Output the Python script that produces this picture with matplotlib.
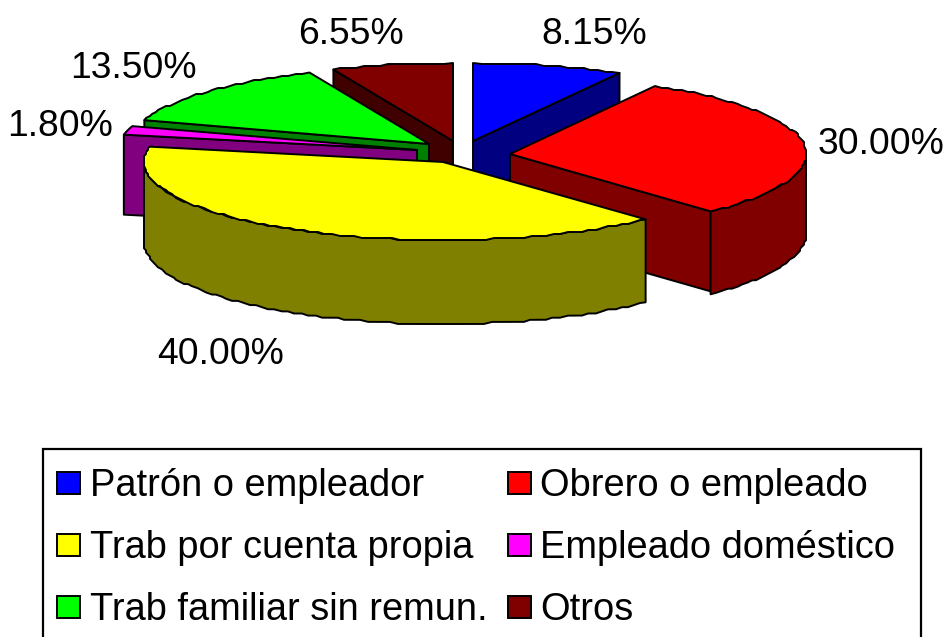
import numpy as np
import matplotlib
matplotlib.use("Agg")
import matplotlib.pyplot as plt
from matplotlib.patches import Polygon, Rectangle

plt.rcParams['font.family'] = ['Liberation Sans', 'DejaVu Sans']

# Data
categories = ["Patrón o empleador", "Obrero o empleado", "Trab por cuenta propia",
              "Empleado doméstico", "Trab familiar sin remun.", "Otros"]
values = [8.15, 30.00, 40.00, 1.80, 13.50, 6.55]

# Styles and layout (pixel space)
top_colors = ["#0000FF", "#FF0000", "#FFFF00", "#FF00FF", "#00FF00", "#800000"]
side_colors = ["#000080", "#800000", "#808000", "#800080", "#008000", "#400000"]
apex_xy = [(473, 141), (510, 154), (443, 162), (417, 150), (429, 144), (453, 141)]
radius_x = [299, 296, 299, 299, 299, 299]
draw_order = [0, 5, 4, 3, 1, 2]
label_xy = [(594, 34), (881, 145), (221, 355), (60, 127), (133, 69), (351, 34)]
RY, DEPTH, BULGE = 78, 80, 4
GRID = 2.0
FS = 26.8
FS_LEGEND = 27.4

fig = plt.figure(figsize=(9.49, 6.37), dpi=100)
ax = fig.add_axes([0, 0, 1, 1])
ax.set_xlim(0, 949)
ax.set_ylim(637, 0)
ax.axis("off")


def rim(c, rx, deg):
    t = np.radians(deg)
    return np.column_stack([c[0] + rx * np.sin(t), c[1] - RY * np.cos(t)])


def rough(pts):
    # coarse device-unit rounding of curve vertices, keeping the end points
    out = np.round(pts / GRID) * GRID
    out[0], out[-1] = pts[0], pts[-1]
    return out


def sweep(a0, a1):
    return np.linspace(a0, a1, max(int((a1 - a0) / 1.5), 2) + 1)


def poly(pts, color, z):
    ax.add_patch(Polygon(pts, closed=True, facecolor=color, edgecolor="black",
                         linewidth=1.4, joinstyle="round", zorder=z))


edges = np.concatenate([[0], np.cumsum(values)]) / sum(values) * 360
for rank, i in enumerate(draw_order):
    a0, a1, c, rx = edges[i], edges[i + 1], apex_xy[i], radius_x[i]
    z = rank * 3 + 1
    apex = np.array([c])
    down = np.array([0, DEPTH])
    for ang, visible in ((a0, 180 < a0 < 360), (a1, 0 < a1 < 180)):
        if visible:
            p = rim(c, rx, np.array([ang]))
            poly(np.vstack([apex, p, p + down, apex + down]), side_colors[i], z)
    lo, hi = max(a0, 90), min(a1, 270)
    if lo < hi:
        deg = sweep(lo, hi)
        arc = rough(rim(c, rx, deg))
        low = arc + down
        low[:, 1] += BULGE * np.abs(np.cos(np.radians(deg)))
        poly(np.vstack([arc, low[::-1]]), side_colors[i], z + 1)
    arc = rough(rim(c, rx, sweep(a0, a1)))
    poly(np.vstack([apex, arc]), top_colors[i], z + 2)

for v, (x, y) in zip(values, label_xy):
    ax.text(x, y, f"{v:.2f}%", fontsize=FS, ha="center", va="center", color="black", zorder=50)

# Legend
ax.add_patch(Rectangle((43, 449), 878, 200, facecolor="white", edgecolor="black",
                       linewidth=1.6, zorder=60))
col_x = [57, 508]
row_y = [472, 534, 596]
for i, name in enumerate(categories):
    sx, sy = col_x[i % 2], row_y[i // 2]
    ax.add_patch(Rectangle((sx, sy), 23, 22, facecolor=top_colors[i], edgecolor="black",
                           linewidth=1.4, zorder=61))
    ax.text(sx + 33 - (i % 2), sy + 10, name, fontsize=FS_LEGEND, ha="left",
            va="center_baseline", color="black", zorder=61)

fig.savefig("out.png", dpi=100)
